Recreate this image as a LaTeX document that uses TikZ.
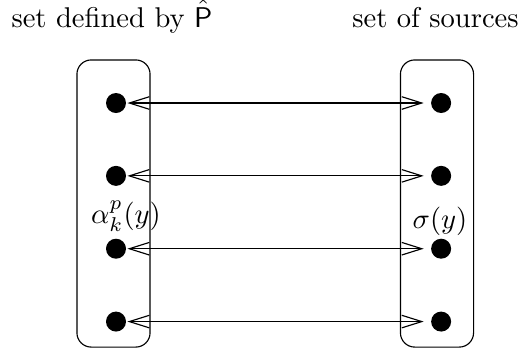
\documentclass[tikz,border=0pt]{standalone}
\usepackage{tikz}
\usetikzlibrary{positioning,arrows.meta}
\tikzset{
  node-set/.style={draw,line width=0.4pt,rounded corners=5pt,
    minimum width=25.6pt,minimum height=100.5pt,inner sep=0pt},
  node-dot/.style={circle,fill=black,inner sep=0pt,minimum size=7pt},
  node-title/.style={anchor=base,inner sep=0pt},
  node-label/.style={anchor=base,inner sep=0pt},
  arrow-map/.style={{Straight Barb[length=7pt,width=4.4pt]}-{Straight Barb[length=7pt,width=4.4pt]},
    line width=0.4pt,shorten <=0.3pt,shorten >=2.4pt},
}

\begin{document}
\begin{tikzpicture}[x=0.35pt,y=-0.35pt,node distance=18.1pt and 106.4pt]
  \useasboundingbox (0,0) rectangle (524,356);
  % the two sets
  \node[node-set] (lset) at (113.5,203.5) {};
  \node[node-set] (rset) at (437,203.5) {};
  \node[node-title] (ltitle) at (112,27) {set defined by $\hat{\mathsf{P}}$};
  \node[node-title] (rtitle) at (435.5,27) {set of sources};
  % elements
  \node[node-dot] (l1) at (116,103) {};
  \node[node-dot,below=of l1] (l2) {};
  \node[node-dot,below=of l2] (l3) {};
  \node[node-dot,below=of l3] (l4) {};
  \node[node-dot,right=of l1] (r1) {};
  \node[node-dot,right=of l2] (r2) {};
  \node[node-dot,right=of l3] (r3) {};
  \node[node-dot,right=of l4] (r4) {};
  \node[node-label] (alpha) at (126,223) {$\alpha^p_k(y)$};
  \node[node-label] (sigma) at (440,228) {$\sigma(y)$};
  \draw[arrow-map] (l1) -- (r1);
  \draw[arrow-map] (l2) -- (r2);
  \draw[arrow-map] (l3) -- (r3);
  \draw[arrow-map] (l4) -- (r4);
\end{tikzpicture}
\end{document}
